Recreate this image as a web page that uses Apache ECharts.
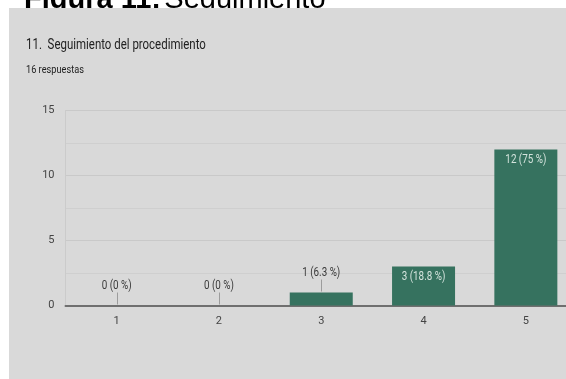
<!DOCTYPE html>
<html>
<head>
<meta charset="utf-8">
<script src="https://cdn.jsdelivr.net/npm/echarts@6/dist/echarts.min.js"></script>
<style>
  html, body { margin: 0; padding: 0; background: #fff; }
  #chart { width: 566px; height: 379px; }
</style>
</head>
<body>
<div id="chart"></div>
<script>
// Survey answers for question 11, scale 1..5
const categories = ['1', '2', '3', '4', '5'];
const counts = [0, 0, 1, 3, 12];
const percentLabels = ['0', '0', '6.3', '18.8', '75'];
const yTicks = [0, 5, 10, 15];

const captionBold = 'Figura 11:';
const captionText = 'Seguimiento';
const questionTitle = '11.  Seguimiento del procedimiento';
const responsesText = '16 respuestas';

const font = "Roboto, 'Noto Sans', sans-serif";
const squeeze = 0.82; // condensed look for the chart texts
const barColor = '#36725f';

function labelFor(i) {
  return counts[i] + ' (' + percentLabels[i] + ' %)';
}

// bars tall enough carry their label inside; short ones get a callout above
const insideMin = 2;
const labelData = counts.map((v, i) => [i, v]);

const chart = echarts.init(document.getElementById('chart'), null, { renderer: 'canvas' });

chart.setOption({
  backgroundColor: '#ffffff',
  animation: false,
  graphic: [
    {
      type: 'text', z: -30, left: 24, top: -15,
      style: {
        text: '{b|' + captionBold + '} {r|' + captionText + '}',
        rich: {
          b: { fontFamily: "'Liberation Sans', Arial, sans-serif", fontWeight: 'bold', fontSize: 29, fill: '#000' },
          r: { fontFamily: "'Liberation Sans', Arial, sans-serif", fontSize: 29, fill: '#000' }
        }
      }
    },
    {
      type: 'rect', z: -20,
      shape: { x: 9, y: 8, width: 600, height: 400 },
      style: { fill: '#d9d9d9' }
    },
    {
      type: 'text', z: -10, x: 26, y: 45.5, scaleX: 0.79,
      style: {
        text: questionTitle, fontFamily: font, fontSize: 14.5,
        fill: '#222', verticalAlign: 'middle'
      }
    },
    {
      type: 'text', z: -10, x: 26, y: 70.5, scaleX: 0.8,
      style: {
        text: responsesText, fontFamily: font, fontSize: 11.5,
        fill: '#222', verticalAlign: 'middle'
      }
    }
  ],
  grid: { left: 65.5, top: 110.5, width: 511.5, height: 195, outerBoundsMode: 'none', containLabel: false },
  xAxis: {
    type: 'category',
    data: categories,
    axisLine: { show: true, lineStyle: { color: '#6f6f6f', width: 2 } },
    axisTick: { show: false },
    axisLabel: { color: '#444', fontFamily: font, fontSize: 11, margin: 10 },
    splitLine: { show: false }
  },
  yAxis: {
    type: 'value',
    min: yTicks[0],
    max: yTicks[yTicks.length - 1],
    interval: yTicks[1] - yTicks[0],
    axisLine: { show: true, lineStyle: { color: '#cbcbcb', width: 1 } },
    axisTick: { show: false },
    axisLabel: { color: '#444', fontFamily: font, fontSize: 11, margin: 11 },
    splitLine: { show: true, lineStyle: { color: '#c9c9c9', width: 1 } },
    minorTick: { show: false, splitNumber: 2 },
    minorSplitLine: { show: true, lineStyle: { color: '#cfcfcf', width: 1 } }
  },
  series: [
    {
      type: 'bar',
      data: counts,
      barWidth: 63,
      itemStyle: { color: barColor },
      z: 3
    },
    {
      // value labels: inside the top of tall bars, callout above short ones
      type: 'custom',
      data: labelData,
      z: 4,
      renderItem: function (params, api) {
        const idx = api.value(0);
        const v = api.value(1);
        const top = api.coord([idx, v]);
        const x = Math.round(top[0]) + 0.5;
        const y0 = top[1] - 1;
        if (v >= insideMin) {
          return {
            type: 'text',
            x: top[0], y: top[1] + 10, scaleX: squeeze,
            style: {
              text: labelFor(idx),
              fontFamily: font, fontSize: 12, fill: '#d3e3dc',
              align: 'center', verticalAlign: 'middle'
            }
          };
        }
        return {
          type: 'group',
          children: [
            {
              type: 'line',
              shape: { x1: x, y1: y0, x2: x, y2: y0 - 12 },
              style: { stroke: '#9c9c9c', lineWidth: 1 }
            },
            {
              type: 'text',
              x: top[0], y: y0 - 19, scaleX: squeeze,
              style: {
                text: labelFor(idx),
                fontFamily: font, fontSize: 12, fill: '#3a3a3a',
                align: 'center', verticalAlign: 'middle'
              }
            }
          ]
        };
      }
    }
  ]
});
</script>
</body>
</html>
